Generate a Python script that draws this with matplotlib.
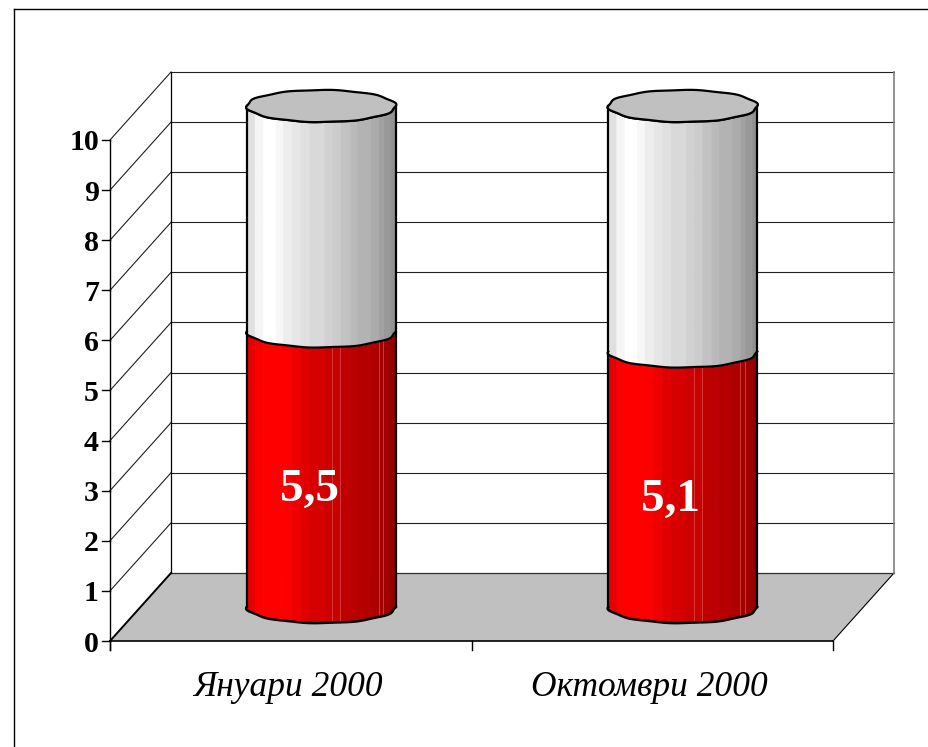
import matplotlib
matplotlib.use("Agg")
from matplotlib import pyplot as plt
from matplotlib.lines import Line2D
import numpy as np

plt.rcParams['font.family'] = ['Liberation Serif', 'DejaVu Serif']

categories = ['Януари 2000', 'Октомври 2000']
values = [5.5, 5.1]
value_labels = ['5,5', '5,1']
total = [10, 10]
yticks = list(range(0, 11))

W, H = 929, 747
# pixel scale of the category and value axes
px_x = 361.5
px_y = 50.1
x0_px, y0_px = 110, 641
depth_x = 61 / px_x
depth_y = 68 / px_y

fig = plt.figure(figsize=(W / 100, H / 100), dpi=100)
ax = fig.add_axes([0, 0, 1, 1])
ax.set_xlim(-x0_px / px_x, (W - x0_px) / px_x)
ax.set_ylim((y0_px - H) / px_y, y0_px / px_y)
ax.axis('off')

# outer frame, only left and top show
fig.add_artist(Line2D([14.5 / W, 14.5 / W], [0, 1 - 8.5 / H], color='k', lw=1))
fig.add_artist(Line2D([14.5 / W, 1], [1 - 8.5 / H, 1 - 8.5 / H], color='k', lw=1))

n = len(categories)
ymax = yticks[-1]

# floor
ax.fill([0, n, n + depth_x, depth_x], [0, 0, depth_y, depth_y], color='#c0c0c0', lw=0, zorder=1)
ax.plot([0, depth_x], [0, depth_y], color='k', lw=1.4, zorder=2)
ax.plot([n, n + depth_x], [0, depth_y], color='k', lw=0.8, zorder=2)
ax.plot([depth_x, n + depth_x], [depth_y, depth_y], color='#303030', lw=0.9, zorder=2)

# walls and grid
for v in yticks[1:]:
    ax.plot([depth_x, n + depth_x], [v + depth_y, v + depth_y], color='#202020', lw=0.8, zorder=2)
    ax.plot([0, depth_x], [v, v + depth_y], color='#202020', lw=0.8, zorder=2)
ax.plot([depth_x, depth_x], [depth_y, ymax + depth_y], color='k', lw=0.9, zorder=2)
ax.plot([n + depth_x, n + depth_x], [depth_y, ymax + depth_y], color='#808080', lw=1.2, zorder=2)

# axis lines and ticks
ax.plot([0, 0], [-9 / px_y, ymax], color='k', lw=1, zorder=3)
ax.plot([0, n], [0, 0], color='k', lw=1.2, zorder=3)
for v in yticks:
    ax.plot([-8 / px_x, 0], [v, v], color='k', lw=1, zorder=3)
    ax.text(-11 / px_x, v - 3 / px_y, str(v), ha='right', va='center',
            fontsize=21.5, fontweight='bold', zorder=5)
for i in range(n + 1):
    ax.plot([i, i], [-9 / px_y, 0], color='k', lw=1, zorder=3)

# cylinder shading bands across the width, left edge to right edge
band_edges = np.array([47, 70, 95, 133, 155, 183, 208, 235, 280, 305, 330, 358, 380, 420, 445, 460, 480, 497])
band_edges = (band_edges - 47) / 450
gray_lev = [0.88, 0.96, 1.0, 0.97, 0.93, 0.90, 0.88, 0.85, 0.82, 0.80, 0.76, 0.73, 0.70, 0.67, 0.63, 0.60, 0.57]
red_lev = [0.90, 0.98, 1.0, 1.0, 0.98, 0.93, 0.88, 0.84, 0.80, 0.78, 0.75, 0.73, 0.71, 0.68, 0.64, 0.62, 0.58]
hairlines = band_edges[[9, 10, 14, 15]]
half_w = 74.5 / px_x
half_h = 16 / px_y


def rim(theta):
    # faceted ellipse outline, the wobble mimics the polygon cap
    r = 1 + 0.016 * np.sin(10 * theta)
    return half_w * r * np.cos(theta), half_h * r * np.sin(theta)


def front(xc, yc):
    dx, dy = rim(np.linspace(np.pi, 2 * np.pi, 121))
    return xc + dx, yc + dy


for i, (val, tot) in enumerate(zip(values, total)):
    xc = i + 0.5 + depth_x / 2
    yc = depth_y / 2
    xs, ys = front(xc, yc)
    for part, (lo, hi) in enumerate([(0, val), (val, tot)]):
        for k in range(len(band_edges) - 1):
            xa = xc - half_w + 2 * half_w * band_edges[k]
            xb = xc - half_w + 2 * half_w * band_edges[k + 1] + 0.002
            xx = np.linspace(xa, min(xb, xc + half_w), 10)
            bot = np.interp(xx, xs, ys)
            if part == 0:
                c = (red_lev[k], 0, 0)
            else:
                c = (gray_lev[k],) * 3
            ax.fill_between(xx, bot + lo, bot + hi, color=c, lw=0, zorder=6, antialiased=False)
        ax.plot(xs, ys + hi, color='k', lw=1.6, zorder=7)
    # light seams on the red section
    for f in hairlines:
        xh = xc - half_w + 2 * half_w * f
        yh = np.interp(xh, xs, ys)
        ax.plot([xh, xh], [yh, yh + val], color='#e05050', lw=0.5, zorder=6.5)
    # base outline and sides
    ax.plot(xs, ys, color='k', lw=1.8, zorder=7)
    ax.plot([xc - half_w, xc - half_w], [yc, yc + tot], color='k', lw=1.6, zorder=7)
    ax.plot([xc + half_w, xc + half_w], [yc, yc + tot], color='k', lw=1.6, zorder=7)
    # top cap
    dx, dy = rim(np.linspace(0, 2 * np.pi, 241))
    ax.fill(xc + dx, yc + tot + dy, facecolor='#c0c0c0', edgecolor='k', lw=1.6, zorder=8)
    # value label
    ax.text(xc - 12 / px_x, val / 2 + 0.26, value_labels[i], color='w', ha='center', va='center',
            fontsize=34, fontweight='bold', zorder=9)
    # category label
    ax.text(i + 0.5 - 3 / px_x, -46.5 / px_y, categories[i], ha='center', va='center',
            fontsize=25.5, fontstyle='italic', zorder=5)

fig.savefig('out.png', dpi=100)
